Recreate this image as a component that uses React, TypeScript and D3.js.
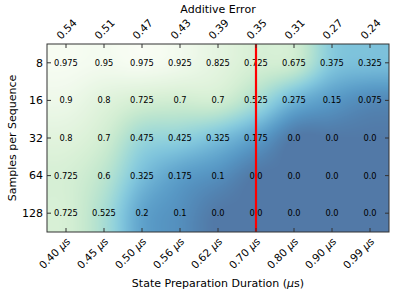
import * as d3 from "d3";
import { useEffect, useRef } from "react";

const durations = ["0.40", "0.45", "0.50", "0.56", "0.62", "0.70", "0.80", "0.90", "0.99"];
const errors = ["0.54", "0.51", "0.47", "0.43", "0.39", "0.35", "0.31", "0.27", "0.24"];
const samples = ["8", "16", "32", "64", "128"];

const row8 = [0.975, 0.95, 0.975, 0.925, 0.825, 0.725, 0.675, 0.375, 0.325];
const row16 = [0.9, 0.8, 0.725, 0.7, 0.7, 0.525, 0.275, 0.15, 0.075];
const row32 = [0.8, 0.7, 0.475, 0.425, 0.325, 0.175, 0.0, 0.0, 0.0];
const row64 = [0.725, 0.6, 0.325, 0.175, 0.1, 0.0, 0.0, 0.0, 0.0];
const row128 = [0.725, 0.525, 0.2, 0.1, 0.0, 0.0, 0.0, 0.0, 0.0];
const grid = [row8, row16, row32, row64, row128];

const markedDuration = "0.70";

const W = 399;
const H = 299;
const margin = { left: 47, right: 10, top: 44, bottom: 67 };
const pw = W - margin.left - margin.right;
const ph = H - margin.top - margin.bottom;
const font = "DejaVu Sans, sans-serif";

// white background + colormap at alpha 0.7
const colour = (v: number) => {
  const c = d3.rgb(d3.interpolateGnBu(1 - v));
  const a = 0.7;
  return [c.r * a + 255 * (1 - a), c.g * a + 255 * (1 - a), c.b * a + 255 * (1 - a)];
};

const cubic = (p0: number, p1: number, p2: number, p3: number, t: number) =>
  p1 + 0.5 * t * (p2 - p0 + t * (2 * p0 - 5 * p1 + 4 * p2 - p3 + t * (3 * (p1 - p2) + p3 - p0)));

const sample = (u: number, v: number) => {
  const nr = grid.length, nc = grid[0].length;
  const cl = (i: number, n: number) => Math.max(0, Math.min(n - 1, i));
  const i0 = Math.floor(u), j0 = Math.floor(v);
  const tu = u - i0, tv = v - j0;
  const rows = [-1, 0, 1, 2].map((dj) => {
    const r = grid[cl(j0 + dj, nr)];
    return cubic(r[cl(i0 - 1, nc)], r[cl(i0, nc)], r[cl(i0 + 1, nc)], r[cl(i0 + 2, nc)], tu);
  });
  return Math.max(0, Math.min(1, cubic(rows[0], rows[1], rows[2], rows[3], tv)));
};

const fmt = (v: number) => (Number.isInteger(v) ? v.toFixed(1) : String(v));

const App = () => {
  const svgRef = useRef(null);

  useEffect(() => {
    const x = d3.scaleBand().domain(durations).range([0, pw]);
    const y = d3.scaleBand().domain(samples).range([0, ph]);

    // smooth heatmap image
    const canvas = document.createElement("canvas");
    canvas.width = pw;
    canvas.height = ph;
    const ctx = canvas.getContext("2d");
    const img = ctx.createImageData(pw, ph);
    for (let py = 0; py < ph; py++) {
      for (let px = 0; px < pw; px++) {
        const u = ((px + 0.5) / pw) * durations.length - 0.5;
        const v = ((py + 0.5) / ph) * samples.length - 0.5;
        const c = colour(sample(u, v));
        const k = (py * pw + px) * 4;
        img.data[k] = c[0];
        img.data[k + 1] = c[1];
        img.data[k + 2] = c[2];
        img.data[k + 3] = 255;
      }
    }
    ctx.putImageData(img, 0, 0);

    const svgEl = d3.select(svgRef.current);
    svgEl.selectAll("*").remove();
    const svg = svgEl.append("g").attr("transform", `translate(${margin.left},${margin.top})`);

    svg.append("image")
      .attr("width", pw)
      .attr("height", ph)
      .attr("href", canvas.toDataURL());

    // cell labels
    grid.forEach((row, j) => {
      row.forEach((v, i) => {
        svg.append("text")
          .attr("x", x(durations[i]) + x.bandwidth() / 2)
          .attr("y", y(samples[j]) + y.bandwidth() / 2)
          .attr("dy", "0.35em")
          .attr("text-anchor", "middle")
          .attr("font-family", font)
          .attr("font-size", 8.3)
          .attr("fill", "#000")
          .text(fmt(v));
      });
    });

    // red marker
    const mx = x(markedDuration) + x.bandwidth() / 2;
    svg.append("line")
      .attr("x1", mx).attr("x2", mx)
      .attr("y1", 0).attr("y2", ph)
      .attr("stroke", "#ff0000")
      .attr("stroke-width", 2.2);

    // frame
    svg.append("rect")
      .attr("width", pw).attr("height", ph)
      .attr("fill", "none")
      .attr("stroke", "#333")
      .attr("stroke-width", 1);

    const tick = 4;
    // bottom + top ticks (inward)
    durations.forEach((d, i) => {
      const cx = x(d) + x.bandwidth() / 2;
      svg.append("line").attr("x1", cx).attr("x2", cx).attr("y1", ph).attr("y2", ph - tick).attr("stroke", "#333");
      svg.append("line").attr("x1", cx).attr("x2", cx).attr("y1", 0).attr("y2", tick).attr("stroke", "#333");
      svg.append("text")
        .attr("transform", `translate(${cx + 5},${ph + 10}) rotate(-45)`)
        .attr("text-anchor", "end")
        .attr("font-family", font)
        .attr("font-size", 10.5)
        .html(`${d} <tspan font-style="italic">μ</tspan>s`);
      svg.append("text")
        .attr("transform", `translate(${cx - 5},${-4}) rotate(-45)`)
        .attr("text-anchor", "start")
        .attr("font-family", font)
        .attr("font-size", 10.5)
        .text(errors[i]);
    });

    // left + right ticks
    samples.forEach((s) => {
      const cy = y(s) + y.bandwidth() / 2;
      svg.append("line").attr("x1", 0).attr("x2", tick).attr("y1", cy).attr("y2", cy).attr("stroke", "#333");
      svg.append("line").attr("x1", pw).attr("x2", pw - tick).attr("y1", cy).attr("y2", cy).attr("stroke", "#333");
      svg.append("text")
        .attr("x", -4)
        .attr("y", cy)
        .attr("dy", "0.35em")
        .attr("text-anchor", "end")
        .attr("font-family", font)
        .attr("font-size", 11)
        .text(s);
    });

    svg.append("text")
      .attr("x", pw / 2)
      .attr("y", ph + 55)
      .attr("text-anchor", "middle")
      .attr("font-family", font)
      .attr("font-size", 11)
      .html(`State Preparation Duration (<tspan font-style="italic">μ</tspan>s)`);

    svg.append("text")
      .attr("x", pw / 2)
      .attr("y", -31)
      .attr("text-anchor", "middle")
      .attr("font-family", font)
      .attr("font-size", 11)
      .text("Additive Error");

    svg.append("text")
      .attr("transform", `translate(${-31},${ph / 2}) rotate(-90)`)
      .attr("text-anchor", "middle")
      .attr("font-family", font)
      .attr("font-size", 11)
      .text("Samples per Sequence");
  }, []);

  return (
    <svg ref={svgRef} width={W} height={H} style={{ position: "absolute", left: 0, top: 0, background: "#fff" }}></svg>
  );
};

export default App;
